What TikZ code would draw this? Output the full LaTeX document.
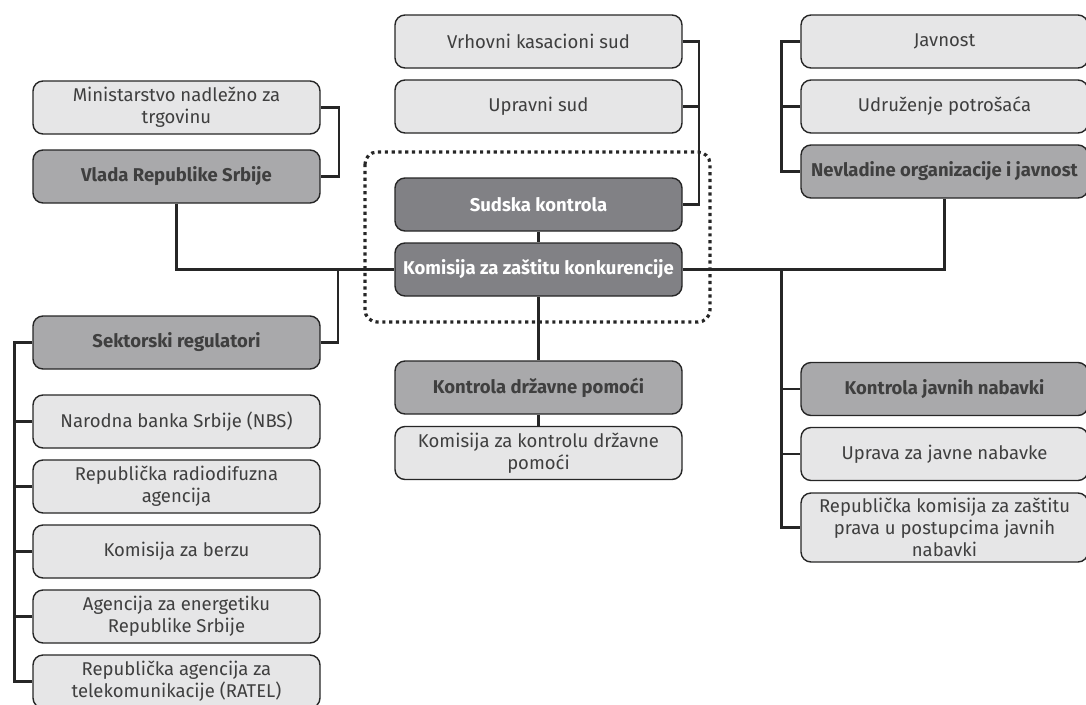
\documentclass[tikz,border=0pt]{standalone}
\usepackage{fontspec}
\setmainfont{Fira Sans}
\definecolor{boxlight}{HTML}{E6E6E7}
\definecolor{boxmid}{HTML}{A9A9AB}
\definecolor{boxdark}{HTML}{818185}
\definecolor{textgray}{HTML}{3F3F3F}
\definecolor{linegray}{HTML}{262626}

\begin{document}
\begin{tikzpicture}[x=1pt,y=-1pt,
    unit/.style={draw=linegray,line width=1.4pt,rounded corners=10pt,
      minimum width=287pt,minimum height=53pt,align=center,text=textgray,
      inner xsep=2pt,inner ysep=1pt,font=\fontsize{18.5}{22}\selectfont},
    lightbox/.style={unit,fill=boxlight},
    midbox/.style={unit,fill=boxmid,font=\fontsize{18.5}{22}\selectfont\bfseries},
    darkbox/.style={unit,fill=boxdark,text=white,font=\fontsize{18.5}{22}\selectfont\bfseries},
    link/.style={draw=linegray,line width=2.4pt}]
    \useasboundingbox (0,0) rectangle (1086,704);

    % left column
    \node[lightbox] (ministarstvo) at (176.5,107.5) {Ministarstvo nadležno za\\trgovinu};
    \node[midbox] (vlada) at (176.5,176.5) {Vlada Republike Srbije};
    \node[midbox] (sektor) at (176.5,342.5) {Sektorski regulatori};
    \node[lightbox] (nbs) at (176.5,421.5) {Narodna banka Srbije (NBS)};
    \node[lightbox] (rra) at (176.5,486.5) {Republička radiodifuzna\\agencija};
    \node[lightbox] (berza) at (176.5,551.5) {Komisija za berzu};
    \node[lightbox] (energetika) at (176.5,616.5) {Agencija za energetiku\\Republike Srbije};
    \node[lightbox] (ratel) at (176.5,681.5) {Republička agencija za\\telekomunikacije (RATEL)};

    % middle column
    \node[lightbox] (vks) at (538.5,41.5) {Vrhovni kasacioni sud};
    \node[lightbox] (upravni) at (538.5,106.5) {Upravni sud};
    \node[darkbox] (sud) at (538.5,204.5) {Sudska kontrola};
    \node[darkbox] (kzk) at (538.5,269.5) {Komisija za zaštitu konkurencije};
    \node[midbox] (pomoc) at (538.5,387.5) {Kontrola državne pomoći};
    \node[lightbox] (kkdp) at (538.5,453) {Komisija za kontrolu državne\\pomoći};

    % right column
    \node[lightbox] (javnost) at (944.5,41.5) {Javnost};
    \node[lightbox] (potrosaci) at (944.5,106.5) {Udruženje potrošaća};
    \node[midbox] (nvo) at (944.5,171.5) {Nevladine organizacije i javnost};
    \node[midbox] (nabavke) at (944.5,389) {Kontrola javnih nabavki};
    \node[lightbox] (uprava) at (944.5,454) {Uprava za javne nabavke};
    \node[lightbox,minimum height=69pt] (rk) at (944.5,527.5) {Republička komisija za zaštitu\\prava u postupcima javnih\\nabavki};

    % connectors
    \draw[link] (ministarstvo.east) -- ++(18,0) |- (vlada.east);
    \draw[link] (vlada.south) |- (kzk.west);
    \draw[link] (sektor.east) -- ++(17,0) |- (kzk.west);
    \draw[link] (sektor.west) -- ++(-18,0) |- (ratel.west);
    \foreach \n in {nbs,rra,berza,energetika}
      \draw[link] (\n.west) -- ++(-18,0);
    \draw[link] (vks.east) -- ++(16,0) |- (sud.east);
    \draw[link] (upravni.east) -- ++(16,0);
    \draw[link] (sud.south) -- (kzk.north);
    \draw[link] (kzk.south) -- (pomoc.north);
    \draw[link] (pomoc.south) -- (kkdp.north);
    \draw[link] (kzk.east) -| (nvo.south);
    \draw[link] (javnost.west) -- ++(-19,0) |- (nvo.west);
    \draw[link] (potrosaci.west) -- ++(-19,0);
    \coordinate (rj) at ([xshift=-19pt]nabavke.west);
    \draw[link] (rj |- kzk.east) -- (rj) -- (nabavke.west);
    \draw[link] (rj) |- (rk.west);
    \draw[link] (uprava.west) -- ++(-19,0);

    % dotted frame
    \draw[draw=linegray,line width=3.2pt,dash pattern=on 3.2pt off 3.6pt,rounded corners=12pt]
      (365,152) rectangle (710,322);
\end{tikzpicture}
\end{document}
